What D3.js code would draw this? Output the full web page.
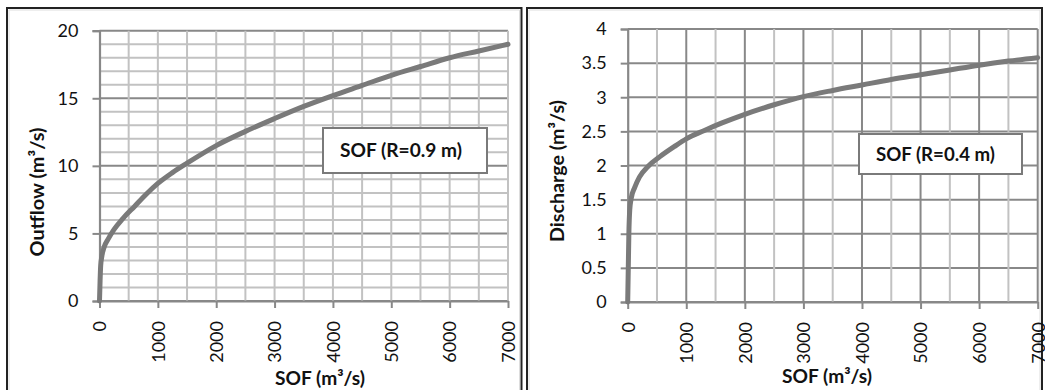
<!DOCTYPE html>
<html>
<head>
<meta charset="utf-8">
<script src="https://cdn.jsdelivr.net/npm/d3@7"></script>
<style>
  html, body { margin: 0; padding: 0; background: #fff; }
  svg { display: block; }
  text { font-family: Lato, "Noto Sans", sans-serif; fill: #111; }
</style>
</head>
<body>
<svg id="chart" width="1045" height="390"></svg>
<script>
// ---- Data ----
const sofLeft   = [0, 10, 20, 40, 80, 150, 250, 400, 600, 800, 1000, 1250, 1500, 2000, 2500, 3000, 3500, 4000, 4500, 5000, 5500, 6000, 6500, 7000];
const outflow   = [0, 1.5, 2.6, 3.3, 4.0, 4.6, 5.3, 6.1, 7.0, 7.9, 8.7, 9.5, 10.2, 11.5, 12.55, 13.5, 14.4, 15.2, 15.95, 16.7, 17.35, 18.0, 18.5, 19.0];
const sofRight  = [0, 10, 20, 35, 60, 120, 200, 350, 550, 800, 1000, 1300, 1600, 2000, 2500, 3000, 3500, 4000, 4500, 5000, 5500, 6000, 6500, 7000];
const discharge = [0, 0.5, 1.0, 1.35, 1.52, 1.68, 1.83, 1.99, 2.13, 2.28, 2.39, 2.51, 2.62, 2.75, 2.89, 3.01, 3.10, 3.18, 3.26, 3.33, 3.40, 3.47, 3.53, 3.58];
const xTicks      = [0, 1000, 2000, 3000, 4000, 5000, 6000, 7000];
const xGridTicks  = [0, 500, 1000, 1500, 2000, 2500, 3000, 3500, 4000, 4500, 5000, 5500, 6000, 6500, 7000];
const yTicksLeft  = [0, 5, 10, 15, 20];
const yGridLeft   = [0,1,2,3,4,5,6,7,8,9,10,11,12,13,14,15,16,17,18,19,20];
const yTicksRight = [0, 0.5, 1, 1.5, 2, 2.5, 3, 3.5, 4];
const yTickLabelsRight = ["0", "0.5", "1", "1.5", "2", "2.5", "3", "3.5", "4"];
const xTitle = "SOF (m³/s)";
const yTitleLeft = "Outflow (m³/s)";
const yTitleRight = "Discharge (m³/s)";
const legendLeft = "SOF (R=0.9 m)";
const legendRight = "SOF (R=0.4 m)";

const svg = d3.select("#chart");

// Panel frames
function frame(x0, x1) {
  svg.append("path")
    .attr("d", `M${x0},390 V8 H${x1} V390`)
    .attr("fill", "none").attr("stroke", "#222").attr("stroke-width", 2);
  svg.append("path")
    .attr("d", `M${x0 + 2},390 V10 H${x1 - 2} V390`)
    .attr("fill", "none").attr("stroke", "#ddd").attr("stroke-width", 1);
}
frame(7, 521.5);
frame(527, 1042);

function panel(cfg) {
  const x = d3.scaleLinear().domain([0, 7000]).range([cfg.left, cfg.right]);
  const y = d3.scaleLinear().domain(cfg.yDomain).range([cfg.bottom, cfg.top]);
  const g = svg.append("g");

  // horizontal grid
  g.append("g").selectAll("line").data(cfg.yGrid).join("line")
    .attr("x1", cfg.left).attr("x2", cfg.right)
    .attr("y1", d => y(d)).attr("y2", d => y(d))
    .attr("stroke", d => cfg.hMajor(d) ? "#888" : "#c2c2c2")
    .attr("stroke-width", 2);
  // vertical grid
  g.append("g").selectAll("line").data(xGridTicks.slice(1)).join("line")
    .attr("x1", d => x(d)).attr("x2", d => x(d))
    .attr("y1", cfg.top).attr("y2", cfg.bottom)
    .attr("stroke", d => cfg.vMajor(d) ? "#888" : "#c2c2c2")
    .attr("stroke-width", 2);

  // axes
  const yAxis = d3.axisLeft(y).tickValues(cfg.yTicks).tickSize(7)
    .tickFormat((d, i) => cfg.yLabels ? cfg.yLabels[i] : d3.format("d")(d)).tickPadding(14);
  const ya = g.append("g").attr("transform", `translate(${cfg.left},0)`).call(yAxis);
  ya.select(".domain").attr("stroke", "#888").attr("stroke-width", 2.2);
  ya.selectAll(".tick line").attr("stroke", "#888").attr("stroke-width", 2);
  ya.selectAll(".tick text").attr("font-size", 18).attr("fill", "#111")
    .attr("font-family", "Lato, sans-serif");

  const xAxis = d3.axisBottom(x).tickValues(xTicks).tickSize(7).tickSizeOuter(0).tickFormat(d3.format("d"));
  const xa = g.append("g").attr("transform", `translate(0,${cfg.bottom})`).call(xAxis);
  xa.select(".domain").attr("stroke", "#888").attr("stroke-width", 2.2);
  xa.selectAll(".tick line").attr("stroke", "#888").attr("stroke-width", 2);
  xa.selectAll(".tick text")
    .attr("font-size", 18).attr("fill", "#111").attr("font-family", "Lato, sans-serif")
    .attr("text-anchor", "end")
    .attr("transform", "rotate(-90)")
    .attr("x", -20).attr("y", 0).attr("dy", "0.35em");

  // curve
  const line = d3.line().x(d => x(d[0])).y(d => y(d[1])).curve(d3.curveMonotoneX);
  g.append("path").datum(d3.zip(cfg.xs, cfg.ys))
    .attr("d", line).attr("fill", "none")
    .attr("stroke", "#7a7a7a").attr("stroke-width", 5).attr("stroke-linecap", "round");

  // legend box
  g.append("rect").attr("x", cfg.leg[0]).attr("y", cfg.leg[1])
    .attr("width", cfg.leg[2]).attr("height", cfg.leg[3])
    .attr("fill", "#fff").attr("stroke", "#7a7a7a").attr("stroke-width", 2);
  g.append("text").attr("x", cfg.legTextPos[0]).attr("y", cfg.legTextPos[1])
    .attr("text-anchor", "middle")
    .attr("font-size", 19).attr("font-weight", "bold")
    .attr("textLength", cfg.legTextLen).attr("lengthAdjust", "spacingAndGlyphs")
    .text(cfg.legText);

  // titles
  g.append("text").attr("x", cfg.xTitlePos[0]).attr("y", cfg.xTitlePos[1])
    .attr("text-anchor", "middle").attr("font-size", 19).attr("font-weight", "bold")
    .attr("textLength", 90).attr("lengthAdjust", "spacingAndGlyphs")
    .text(xTitle);
  g.append("text").attr("transform", `translate(${cfg.yTitlePos[0]},${cfg.yTitlePos[1]}) rotate(-90)`)
    .attr("text-anchor", "middle").attr("dy", "0.36em")
    .attr("font-size", 19).attr("font-weight", "bold")
    .attr("textLength", cfg.yTitleLen).attr("lengthAdjust", "spacingAndGlyphs")
    .text(cfg.yTitle);
}

panel({
  left: 99.5, right: 508, top: 30.7, bottom: 301,
  yDomain: [0, 20], yTicks: yTicksLeft, yGrid: yGridLeft,
  hMajor: d => d % 5 === 0, vMajor: d => false,
  xs: sofLeft, ys: outflow,
  leg: [323, 128, 164, 45], legText: legendLeft, legTextPos: [401, 157], legTextLen: 122,
  xTitlePos: [320, 385], yTitlePos: [37, 192], yTitle: yTitleLeft, yTitleLen: 129
});

panel({
  left: 627.7, right: 1037.7, top: 29, bottom: 302,
  yDomain: [0, 4], yTicks: yTicksRight, yGrid: yTicksRight, yLabels: yTickLabelsRight,
  hMajor: d => true, vMajor: d => d % 1000 === 0,
  xs: sofRight, ys: discharge,
  leg: [859, 134, 163, 40], legText: legendRight, legTextPos: [935.5, 161], legTextLen: 119,
  xTitlePos: [827, 383], yTitlePos: [557, 171], yTitle: yTitleRight, yTitleLen: 142
});
</script>
</body>
</html>
